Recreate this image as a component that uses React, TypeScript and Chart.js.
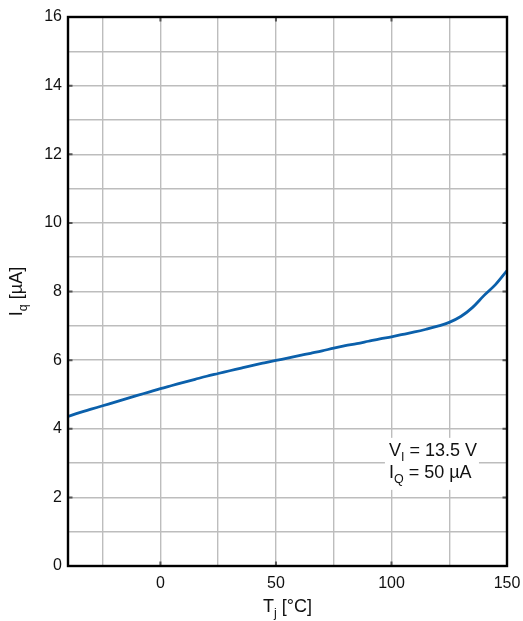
import { useEffect, useRef } from 'react';
import { Chart, registerables } from 'chart.js';

Chart.register(...registerables);

// ---------- data ----------
const temperatures = [
  -40, -35, -30, -25, -20, -15, -10, -5, 0, 5, 10, 15, 20, 25, 30, 35, 40, 45, 50, 55,
  60, 65, 70, 75, 80, 85, 90, 95, 100, 105, 110, 115, 120, 125, 130, 135, 140, 145, 150,
];
const quiescentCurrent = [
  4.36, 4.47, 4.57, 4.67, 4.77, 4.87, 4.97, 5.07, 5.17, 5.26, 5.35, 5.44, 5.53, 5.61, 5.69,
  5.77, 5.85, 5.92, 5.99, 6.06, 6.13, 6.2, 6.27, 6.35, 6.42, 6.48, 6.55, 6.62, 6.68, 6.75,
  6.82, 6.9, 6.99, 7.1, 7.27, 7.53, 7.88, 8.2, 8.61,
];
const xTickValues = [-40, -25, 0, 25, 50, 75, 100, 125, 150];
const xLabeledTicks = [0, 50, 100, 150];
const yTickValues = [0, 1, 2, 3, 4, 5, 6, 7, 8, 9, 10, 11, 12, 13, 14, 15, 16];
const yLabeledTicks = [0, 2, 4, 6, 8, 10, 12, 14, 16];
const xTitle = { main: 'T', sub: 'j', rest: ' [°C]' };
const yTitle = { main: 'I', sub: 'q', rest: ' [µA]' };
const annotationLines = [
  { main: 'V', sub: 'I', rest: ' = 13.5 V' },
  { main: 'I', sub: 'Q', rest: ' = 50 µA' },
];
const annotationAnchor = { x: 98.9, y: 3.21 };

// ---------- styles ----------
const FONT = '"Liberation Sans", Arial, Helvetica, sans-serif';
const LINE_COLOR = '#0b60ab';
const GRID_COLOR = '#bdbdbd';

type Rich = { main: string; sub: string; rest: string };

function richWidth(ctx: CanvasRenderingContext2D, r: Rich, size: number, subSize: number) {
  ctx.font = `${size}px ${FONT}`;
  const a = ctx.measureText(r.main).width;
  const c = ctx.measureText(r.rest).width;
  ctx.font = `${subSize}px ${FONT}`;
  const b = ctx.measureText(r.sub).width;
  return a + b + c;
}

function drawRich(
  ctx: CanvasRenderingContext2D,
  r: Rich,
  x: number,
  y: number,
  size: number,
  subSize: number,
  drop: number,
) {
  ctx.textAlign = 'left';
  ctx.textBaseline = 'alphabetic';
  ctx.font = `${size}px ${FONT}`;
  ctx.fillText(r.main, x, y);
  let cx = x + ctx.measureText(r.main).width;
  ctx.font = `${subSize}px ${FONT}`;
  ctx.fillText(r.sub, cx, y + drop);
  cx += ctx.measureText(r.sub).width;
  ctx.font = `${size}px ${FONT}`;
  ctx.fillText(r.rest, cx, y);
}

const decorPlugin = {
  id: 'decor',
  afterDatasetsDraw(chart: any) {
    const ctx: CanvasRenderingContext2D = chart.ctx;
    const xs = chart.scales.x;
    const ys = chart.scales.y;
    // annotation box
    const size = 18;
    const sub = 12.5;
    const tx = xs.getPixelForValue(annotationAnchor.x);
    const ty = ys.getPixelForValue(annotationAnchor.y);
    const step = 22;
    let w = 0;
    annotationLines.forEach((l) => (w = Math.max(w, richWidth(ctx, l, size, sub))));
    ctx.save();
    ctx.fillStyle = '#ffffff';
    ctx.fillRect(tx - 4, ty - 18, w + 6, step * (annotationLines.length - 1) + 30);
    ctx.fillStyle = '#111111';
    annotationLines.forEach((l, i) => drawRich(ctx, l, tx, ty + i * step, size, sub, 5));
    ctx.restore();
  },
  afterDraw(chart: any) {
    const ctx: CanvasRenderingContext2D = chart.ctx;
    const { left, right, top, bottom } = chart.chartArea;
    const xs = chart.scales.x;
    const ys = chart.scales.y;
    ctx.save();
    // inward tick marks
    ctx.strokeStyle = '#555555';
    ctx.lineWidth = 2;
    const tl = 4.5;
    yLabeledTicks.forEach((v) => {
      const py = ys.getPixelForValue(v);
      ctx.beginPath();
      ctx.moveTo(left, py);
      ctx.lineTo(left + tl, py);
      ctx.moveTo(right, py);
      ctx.lineTo(right - tl, py);
      ctx.stroke();
    });
    xLabeledTicks.forEach((v) => {
      const px = xs.getPixelForValue(v);
      ctx.beginPath();
      ctx.moveTo(px, bottom);
      ctx.lineTo(px, bottom - tl);
      ctx.moveTo(px, top);
      ctx.lineTo(px, top + tl);
      ctx.stroke();
    });
    // frame
    ctx.strokeStyle = '#000000';
    ctx.lineWidth = 2.4;
    ctx.strokeRect(left, top, right - left, bottom - top);

    // axis titles
    ctx.fillStyle = '#111111';
    const size = 18;
    const sub = 12.5;
    const xw = richWidth(ctx, xTitle, size, sub);
    drawRich(ctx, xTitle, (left + right) / 2 - xw / 2, bottom + 46, size, sub, 5);

    const yw = richWidth(ctx, yTitle, size, sub);
    ctx.translate(22, (top + bottom) / 2);
    ctx.rotate(-Math.PI / 2);
    drawRich(ctx, yTitle, -yw / 2, 0, size, sub, 5);
    ctx.restore();
  },
};

export default function App() {
  const ref = useRef<HTMLCanvasElement | null>(null);

  useEffect(() => {
    if (!ref.current) return;
    const chart = new Chart(ref.current, {
      type: 'line',
      data: {
        datasets: [
          {
            data: temperatures.map((t, i) => ({ x: t, y: quiescentCurrent[i] })),
            borderColor: LINE_COLOR,
            borderWidth: 2.8,
            pointRadius: 0,
            tension: 0.35,
            fill: false,
          },
        ],
      },
      options: {
        animation: false,
        responsive: false,
        devicePixelRatio: 1,
        layout: { padding: { left: 0, top: 17, right: 16, bottom: 0 } },
        plugins: { legend: { display: false }, tooltip: { enabled: false } },
        scales: {
          x: {
            type: 'linear',
            min: -40,
            max: 150,
            afterBuildTicks: (s: any) => {
              s.ticks = xTickValues.map((v) => ({ value: v }));
            },
            afterFit: (s: any) => {
              s.height = 55;
              s.paddingLeft = 0;
              s.paddingRight = 0;
            },
            ticks: {
              autoSkip: false,
              maxRotation: 0,
              padding: 8,
              color: '#111111',
              font: { family: FONT, size: 16 },
              callback: (v: any) => (xLabeledTicks.includes(Number(v)) ? String(v) : ''),
            },
            grid: { color: GRID_COLOR, lineWidth: 1.4, drawTicks: false },
            border: { display: false },
          },
          y: {
            type: 'linear',
            min: 0,
            max: 16,
            afterBuildTicks: (s: any) => {
              s.ticks = yTickValues.map((v) => ({ value: v }));
            },
            afterFit: (s: any) => {
              s.width = 68;
              s.paddingTop = 0;
              s.paddingBottom = 0;
            },
            ticks: {
              autoSkip: false,
              padding: 6,
              color: '#111111',
              font: { family: FONT, size: 16 },
              callback: (v: any) => (yLabeledTicks.includes(Number(v)) ? String(v) : ''),
            },
            grid: { color: GRID_COLOR, lineWidth: 1.4, drawTicks: false },
            border: { display: false },
          },
        },
      },
      plugins: [decorPlugin],
    });
    return () => chart.destroy();
  }, []);

  return (
    <div style={{ position: 'fixed', left: 0, top: 0, width: 523, height: 621, background: '#fff' }}>
      <canvas ref={ref} width={523} height={621} style={{ display: 'block' }} />
    </div>
  );
}
